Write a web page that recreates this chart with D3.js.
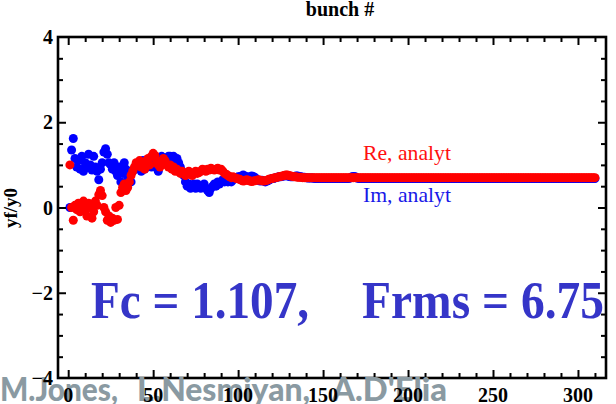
<!DOCTYPE html>
<html><head><meta charset="utf-8">
<script src="https://cdn.jsdelivr.net/npm/d3@7"></script>
<style>html,body{margin:0;padding:0;background:#fff;}svg{display:block;}</style>
</head><body>
<svg id="c" width="616" height="404"></svg>
<script>
// ---- data ----
const imValues = [
 0.00,1.35,1.62,1.15,0.95,1.10,0.90,1.20,0.85,1.05,
 0.95,1.25,1.00,0.88,1.20,0.95,0.85,0.65,0.90,1.05,
 1.30,1.38,1.25,1.05,1.00,0.90,1.05,0.85,0.75,0.95,
 0.60,0.80,1.05,0.90,0.70,0.75,0.60,0.85,0.90,1.00,
 0.95,1.05,0.85,1.10,0.90,1.00,1.05,1.10,0.95,1.05,
 1.10,1.00,0.85,1.15,1.20,1.05,1.10,1.15,1.20,1.20,
 1.15,1.20,1.10,1.15,1.05,0.95,0.85,0.75,0.60,0.50,
 0.55,0.45,0.50,0.55,0.45,0.55,0.50,0.45,0.50,0.55,
 0.45,0.40,0.35,0.45,0.50,0.55,0.50,0.60,0.55,0.60,
 0.65,0.60,0.65,0.60,0.65,0.60,0.65,0.70,0.70,0.72,
 0.72,0.74,0.76,0.74,0.72,0.70,0.72,0.74,0.73,0.70,
 0.66,0.64,0.62,0.64,0.62,0.60,0.62,0.64,0.66,0.68,
 0.68,0.70,0.71,0.72,0.72,0.73,0.74,0.75,0.74,0.73,
 0.72,0.72,0.73,0.74,0.74,0.73,0.72,0.71,0.71,0.70,
 0.69,0.69,0.69,0.69,0.68,0.68,0.68,0.68,0.68,0.68,
 0.68,0.68,0.68,0.68,0.68,0.68,0.68,0.68,0.68,0.68,
 0.68,0.68,0.68,0.68,0.68,0.69,0.72,0.73,0.72,0.69,
 0.68,0.68,0.68,0.68,0.68,0.68,0.68,0.68,0.68,0.68,
 0.68,0.68,0.68,0.68,0.68,0.68,0.68,0.68,0.68,0.68,
 0.68,0.68,0.68,0.68,0.68,0.68,0.68,0.68,0.68,0.68,
 0.68,0.68,0.68,0.68,0.68,0.68,0.68,0.68,0.68,0.68,
 0.68,0.68,0.68,0.68,0.68,0.68,0.68,0.68,0.68,0.68,
 0.68,0.68,0.68,0.68,0.68,0.68,0.68,0.68,0.68,0.68,
 0.68,0.68,0.68,0.68,0.68,0.68,0.68,0.68,0.68,0.68,
 0.68,0.68,0.68,0.68,0.68,0.68,0.68,0.68,0.68,0.68,
 0.68,0.68,0.68,0.68,0.68,0.68,0.68,0.68,0.68,0.68,
 0.68,0.68,0.68,0.68,0.68,0.68,0.68,0.68,0.68,0.68,
 0.68,0.68,0.68,0.68,0.68,0.68,0.68,0.68,0.68,0.68,
 0.68,0.68,0.68,0.68,0.68,0.68,0.68,0.68,0.68,0.68,
 0.68,0.68,0.68,0.68,0.68,0.68,0.68,0.68,0.68,0.68,
 0.68,0.68,0.68,0.68,0.68,0.68,0.68,0.68,0.68,0.68
];
const reValues = [
 1.00,0.00,-0.30,0.05,-0.05,0.10,-0.10,0.00,0.15,-0.05,
 -0.20,0.10,0.00,-0.25,-0.10,0.15,0.05,0.30,0.40,0.28,
 0.00,-0.10,-0.30,-0.20,-0.35,-0.25,-0.30,0.00,-0.28,0.05,
 0.35,0.47,0.55,0.40,0.47,0.60,0.75,0.85,0.95,1.05,
 1.00,1.10,0.95,1.05,0.90,1.10,1.15,1.00,1.20,1.27,
 1.22,1.10,1.00,0.95,1.05,1.15,1.10,1.00,0.95,1.00,
 0.90,0.95,0.85,0.90,0.85,0.80,0.85,0.80,0.75,0.80,
 0.85,0.80,0.75,0.80,0.85,0.80,0.82,0.85,0.90,0.88,
 0.85,0.90,0.88,0.92,0.90,0.88,0.90,0.92,0.88,0.90,
 0.85,0.80,0.78,0.75,0.72,0.70,0.72,0.70,0.68,0.67,
 0.66,0.64,0.62,0.63,0.65,0.64,0.62,0.61,0.62,0.63,
 0.64,0.65,0.64,0.63,0.62,0.63,0.64,0.66,0.67,0.68,
 0.69,0.70,0.71,0.72,0.73,0.74,0.75,0.76,0.76,0.75,
 0.74,0.73,0.72,0.72,0.71,0.71,0.71,0.70,0.70,0.70,
 0.70,0.70,0.70,0.70,0.70,0.70,0.70,0.70,0.70,0.70,
 0.70,0.70,0.70,0.70,0.70,0.70,0.70,0.70,0.70,0.70,
 0.70,0.70,0.70,0.70,0.70,0.70,0.70,0.70,0.70,0.70,
 0.70,0.70,0.70,0.70,0.70,0.70,0.70,0.70,0.70,0.70,
 0.70,0.70,0.70,0.70,0.70,0.70,0.70,0.70,0.70,0.70,
 0.70,0.70,0.70,0.70,0.70,0.70,0.70,0.70,0.70,0.70,
 0.70,0.70,0.70,0.70,0.70,0.70,0.70,0.70,0.70,0.70,
 0.70,0.70,0.70,0.70,0.70,0.70,0.70,0.70,0.70,0.70,
 0.70,0.70,0.70,0.70,0.70,0.70,0.70,0.70,0.70,0.70,
 0.70,0.70,0.70,0.70,0.70,0.70,0.70,0.70,0.70,0.70,
 0.70,0.70,0.70,0.70,0.70,0.70,0.70,0.70,0.70,0.70,
 0.70,0.70,0.70,0.70,0.70,0.70,0.70,0.70,0.70,0.70,
 0.70,0.70,0.70,0.70,0.70,0.70,0.70,0.70,0.70,0.70,
 0.70,0.70,0.70,0.70,0.70,0.70,0.70,0.70,0.70,0.70,
 0.70,0.70,0.70,0.70,0.70,0.70,0.70,0.70,0.70,0.70,
 0.70,0.70,0.70,0.70,0.70,0.70,0.70,0.70,0.70,0.70,
 0.70,0.70,0.70,0.70,0.70,0.70,0.70,0.70,0.70,0.70
];
const xMajorTicks = [0,50,100,150,200,250,300];
const xTickLabels = ["0","50","100","150","200","250","300"];
const yMajorTicks = [-4,-2,0,2,4];
const yTickLabels = ["\u22124","\u22122","0","2","4"];
const seriesNames = ["Re, analyt","Im, analyt"];
const topTitle = "bunch #";
const yTitle = "yf/y0";
const annotation = ["Fc = 1.107,","Frms = 6.75"];
const authors = ["M.Jones,","L.Nesmiyan,","A.D'Elia"];

// ---- layout ----
const svg = d3.select("#c");
const L = 58, R = 606, T = 37, B = 378;
const x = d3.scaleLinear().domain([-6, 316.5]).range([L, R]);
const y = d3.scaleLinear().domain([-4, 4]).range([B, T]);
const serif = "'Liberation Serif','Times New Roman',serif";

const imPts = imValues.map((v,i)=>({b:i+1, v}));
const rePts = reValues.map((v,i)=>({b:i+1, v}));

// points
const gp = svg.append("g");
gp.selectAll("circle.im").data(imPts).join("circle").attr("class","im")
  .attr("cx", d=>x(d.b)).attr("cy", d=>y(d.v)).attr("r", 4.5).attr("fill", "#0000ff");
gp.selectAll("circle.re").data(rePts).join("circle").attr("class","re")
  .attr("cx", d=>x(d.b)).attr("cy", d=>y(d.v)).attr("r", 4.5).attr("fill", "#ff0000");

// ticks (inward, all four sides)
const xMinor = d3.range(0, 311, 10).filter(v=>!xMajorTicks.includes(v));
const yMinor = d3.range(-4, 4.01, 0.5).filter(v=>!yMajorTicks.includes(v) );
function axisG(axis, tx, ty){
  const g = svg.append("g").attr("transform",`translate(${tx},${ty})`).call(axis);
  g.select(".domain").remove();
  g.selectAll("line").attr("stroke","#000").attr("stroke-width",2);
  g.selectAll("text").remove();
  return g;
}
axisG(d3.axisBottom(x).tickValues(xMajorTicks).tickSize(-8), 0, B);
axisG(d3.axisBottom(x).tickValues(xMinor).tickSize(-5), 0, B);
axisG(d3.axisTop(x).tickValues(xMajorTicks).tickSize(-8), 0, T);
axisG(d3.axisTop(x).tickValues(xMinor).tickSize(-5), 0, T);
axisG(d3.axisLeft(y).tickValues(yMajorTicks.filter(v=>v>-4&&v<4)).tickSize(-8), L, 0);
axisG(d3.axisLeft(y).tickValues(yMinor).tickSize(-5), L, 0);
axisG(d3.axisRight(y).tickValues(yMajorTicks.filter(v=>v>-4&&v<4)).tickSize(-8), R, 0);
axisG(d3.axisRight(y).tickValues(yMinor).tickSize(-5), R, 0);

// frame
svg.append("rect").attr("x",L).attr("y",T).attr("width",R-L).attr("height",B-T)
  .attr("fill","none").attr("stroke","#000").attr("stroke-width",2.6);

// series labels
svg.append("text").attr("x",363).attr("y",160).text(seriesNames[0])
  .attr("font-family",serif).attr("font-size",21).attr("fill","#ff1010")
  .attr("textLength",88).attr("lengthAdjust","spacingAndGlyphs");
svg.append("text").attr("x",363).attr("y",202).text(seriesNames[1])
  .attr("font-family",serif).attr("font-size",21).attr("fill","#1818e8")
  .attr("textLength",88).attr("lengthAdjust","spacingAndGlyphs");

// annotation
svg.append("text").attr("x",91).attr("y",318).text(annotation[0])
  .attr("font-family",serif).attr("font-weight","bold").attr("font-size",53).attr("fill","#3535c8")
  .attr("textLength",218).attr("lengthAdjust","spacingAndGlyphs");
svg.append("text").attr("x",362).attr("y",318).text(annotation[1])
  .attr("font-family",serif).attr("font-weight","bold").attr("font-size",53).attr("fill","#3535c8")
  .attr("textLength",242).attr("lengthAdjust","spacingAndGlyphs");

// titles
svg.append("text").attr("x",340).attr("y",16).attr("text-anchor","middle").text(topTitle)
  .attr("font-family",serif).attr("font-weight","bold").attr("font-size",20).attr("fill","#000");
svg.append("text").attr("transform","translate(17,208) rotate(-90)").attr("text-anchor","middle").text(yTitle)
  .attr("font-family",serif).attr("font-weight","bold").attr("font-size",19).attr("fill","#000");

// authors watermark
const authX = [0,137,332], authW = [118,173,115];
authors.forEach((t,i)=>{
  svg.append("text").attr("x",authX[i]).attr("y",401).text(t)
    .attr("font-family","Lato, 'Open Sans', sans-serif").attr("font-weight",900).attr("font-size",33)
    .attr("fill","#8a9aa2").attr("textLength",authW[i]).attr("lengthAdjust","spacingAndGlyphs");
});

// tick labels
svg.append("g").selectAll("text").data(xMajorTicks).join("text")
  .attr("x",d=>x(d)).attr("y",402).attr("text-anchor","middle")
  .text((d,i)=>xTickLabels[i])
  .attr("font-family",serif).attr("font-weight","bold").attr("font-size",20).attr("fill","#000");
svg.append("g").selectAll("text").data(yMajorTicks).join("text")
  .attr("x",53).attr("y",d=>y(d)).attr("dy","0.35em").attr("text-anchor","end")
  .text((d,i)=>yTickLabels[i])
  .attr("font-family",serif).attr("font-weight","bold").attr("font-size",20).attr("fill","#000");
</script>
</body></html>
